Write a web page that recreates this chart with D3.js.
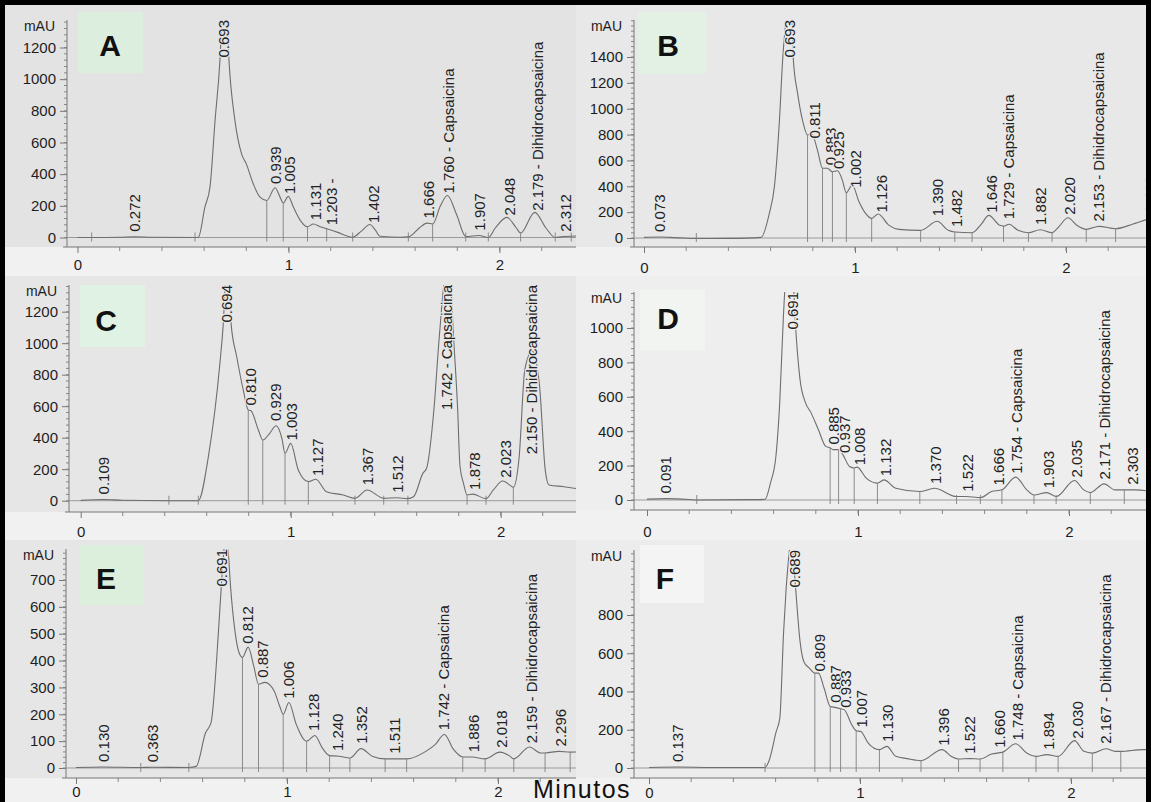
<!DOCTYPE html>
<html>
<head>
<meta charset="utf-8">
<script src="https://cdn.jsdelivr.net/npm/d3@7"></script>
<style>
body { margin:0; background:#fff; }
svg { display:block; }
</style>
</head>
<body>
<div id="chart"></div>
<script>
// ---------- data (time in min, signal in mAU) ----------

var xTicks = [0, 1, 2];

// Panel A
var traceA = [[0,0],[0.067,0],[0.2,2],[0.272,5],[0.35,2],[0.557,0],[0.573,2],[0.604,193],[0.628,320],[0.652,740],[0.675,1118],[0.686,1420],[0.696,1500],[0.707,1420],[0.718,1118],[0.746,740],[0.778,527],[0.80,465],[0.833,339],[0.865,255],[0.897,234],[0.936,314],[0.96,255],[0.975,218],[0.999,260],[1.023,193],[1.055,110],[1.09,68],[1.118,85],[1.15,68],[1.181,55],[1.23,34],[1.304,2],[1.345,40],[1.386,82],[1.41,50],[1.434,8],[1.53,2],[1.568,4],[1.62,60],[1.656,91],[1.683,85],[1.72,200],[1.753,265],[1.797,144],[1.84,6],[1.903,13],[1.947,0],[1.98,60],[2.035,127],[2.08,60],[2.10,28],[2.167,159],[2.22,60],[2.264,0],[2.29,4],[2.39,10]];
var peaksA = [[0.272,"0.272"],[0.693,"0.693"],[0.939,"0.939"],[1.005,"1.005"],[1.131,"1.131"],[1.203,"1.203 -"],[1.402,"1.402"],[1.666,"1.666"],[1.760,"1.760 - Capsaicina"],[1.907,"1.907"],[2.048,"2.048"],[2.179,"2.179 - Dihidrocapsaicina"],[2.312,"2.312"]];
var dropsA = [0.067,0.557,0.897,0.975,1.09,1.181,1.304,1.568,1.683,1.84,1.947,2.10,2.264,2.34];
var yTicksA = [0,200,400,600,800,1000,1200];

// Panel B
var traceB = [[0,5],[0.073,8],[0.15,3],[0.248,-4],[0.4,-3],[0.555,5],[0.594,190],[0.618,397],[0.642,912],[0.657,1376],[0.675,1700],[0.692,1800],[0.70,1700],[0.708,1376],[0.728,1119],[0.751,912],[0.775,797],[0.794,810],[0.822,680],[0.846,539],[0.869,539],[0.893,513],[0.917,520],[0.94,448],[0.959,350],[0.987,410],[1.019,281],[1.05,191],[1.079,152],[1.11,186],[1.16,100],[1.208,67],[1.311,59],[1.39,129],[1.442,59],[1.473,46],[1.555,41],[1.6,110],[1.634,175],[1.686,98],[1.704,92],[1.73,106],[1.773,59],[1.822,41],[1.878,64],[1.934,41],[1.965,85],[2.009,157],[2.052,98],[2.096,67],[2.157,90],[2.235,72],[2.314,106],[2.415,162]];
var peaksB = [[0.073,"0.073"],[0.693,"0.693"],[0.811,"0.811"],[0.883,"0.883"],[0.925,"0.925"],[1.002,"1.002"],[1.126,"1.126"],[1.390,"1.390"],[1.482,"1.482"],[1.646,"1.646"],[1.729,"1.729 - Capsaicina"],[1.882,"1.882"],[2.020,"2.020"],[2.153,"2.153 - Dihidrocapsaicina"],[2.400,"2.400"]];
var dropsB = [0.248,0.775,0.846,0.893,0.959,1.079,1.311,1.473,1.555,1.704,1.822,1.934,2.096,2.235];
var yTicksB = [0,200,400,600,800,1000,1200,1400];

// Panel C
var traceC = [[0,2],[0.109,8],[0.2,3],[0.42,0],[0.56,0],[0.608,280],[0.663,874],[0.679,1126],[0.69,1400],[0.70,1500],[0.71,1400],[0.716,1126],[0.743,914],[0.774,703],[0.798,576],[0.81,572],[0.846,449],[0.867,385],[0.90,428],[0.93,476],[0.958,396],[0.973,301],[1.0,364],[1.036,195],[1.084,121],[1.12,136],[1.17,57],[1.25,36],[1.306,15],[1.364,68],[1.443,15],[1.505,19],[1.558,13],[1.585,25],[1.63,175],[1.647,206],[1.682,579],[1.708,1047],[1.74,1450],[1.76,1400],[1.775,1050],[1.795,580],[1.806,220],[1.823,110],[1.84,36],[1.867,42],[1.93,13],[1.965,68],[2.009,125],[2.053,90],[2.06,85],[2.088,280],[2.115,834],[2.15,950],[2.185,728],[2.212,196],[2.23,100],[2.30,89],[2.385,72]];
var peaksC = [[0.109,"0.109"],[0.694,"0.694"],[0.810,"0.810"],[0.929,"0.929"],[1.003,"1.003"],[1.127,"1.127"],[1.367,"1.367"],[1.512,"1.512"],[1.742,"1.742 - Capsaicina"],[1.878,"1.878"],[2.023,"2.023"],[2.150,"2.150 - Dihidrocapsaicina"]];
var dropsC = [0.42,0.56,0.798,0.867,0.973,1.084,1.306,1.443,1.558,1.84,1.93,2.06];
var yTicksC = [0,200,400,600,800,1000,1200];

// Panel D
var traceD = [[0,5],[0.091,8],[0.2,3],[0.236,0],[0.5,2],[0.559,4],[0.585,98],[0.611,254],[0.629,566],[0.646,1055],[0.66,1350],[0.674,1450],[0.69,1350],[0.702,1055],[0.725,703],[0.751,566],[0.777,508],[0.812,410],[0.847,312],[0.868,303],[0.882,293],[0.908,293],[0.926,268],[0.96,195],[0.982,186],[0.996,191],[1.039,127],[1.092,98],[1.123,117],[1.179,68],[1.293,49],[1.362,68],[1.467,20],[1.511,20],[1.58,14],[1.633,49],[1.682,59],[1.747,133],[1.8,59],[1.834,29],[1.895,43],[1.939,20],[2.026,113],[2.07,59],[2.101,43],[2.166,94],[2.218,59],[2.262,59],[2.314,59],[2.398,49]];
var peaksD = [[0.091,"0.091"],[0.691,"0.691"],[0.885,"0.885"],[0.937,"0.937"],[1.008,"1.008"],[1.132,"1.132"],[1.370,"1.370"],[1.522,"1.522"],[1.666,"1.666"],[1.754,"1.754 - Capsaicina"],[1.903,"1.903"],[2.035,"2.035"],[2.171,"2.171 - Dihidrocapsaicina"],[2.303,"2.303"],[2.419,"2.419"]];
var dropsD = [0.236,0.868,0.908,0.982,1.092,1.293,1.467,1.58,1.682,1.834,1.939,2.101,2.262,2.367];
var yTicksD = [0,200,400,600,800,1000];

// Panel E
var traceE = [[0,2],[0.13,4],[0.307,2],[0.363,3],[0.535,2],[0.57,6],[0.614,131],[0.64,169],[0.675,506],[0.689,681],[0.70,800],[0.711,850],[0.722,800],[0.732,681],[0.754,506],[0.772,431],[0.789,412],[0.816,450],[0.842,381],[0.865,312],[0.895,319],[0.939,287],[0.965,231],[0.982,200],[1.009,244],[1.044,162],[1.093,100],[1.132,121],[1.167,75],[1.202,46],[1.246,44],[1.298,37],[1.351,72],[1.404,44],[1.465,34],[1.518,34],[1.567,34],[1.658,62],[1.702,87],[1.746,125],[1.789,69],[1.833,41],[1.877,41],[1.939,34],[2.009,59],[2.053,46],[2.075,34],[2.149,78],[2.202,56],[2.223,56],[2.289,62],[2.342,59],[2.391,60]];
var peaksE = [[0.130,"0.130"],[0.363,"0.363"],[0.691,"0.691"],[0.812,"0.812"],[0.887,"0.887"],[1.006,"1.006"],[1.128,"1.128"],[1.240,"1.240"],[1.352,"1.352"],[1.511,"1.511"],[1.742,"1.742 - Capsaicina"],[1.886,"1.886"],[2.018,"2.018"],[2.159,"2.159 - Dihidrocapsaicina"],[2.296,"2.296"]];
var dropsE = [0.307,0.535,0.789,0.865,0.982,1.093,1.202,1.298,1.465,1.567,1.833,1.939,2.075,2.223,2.342];
var yTicksE = [0,100,200,300,400,500,600,700];

// Panel F
var traceF = [[0,3],[0.137,5],[0.3,3],[0.55,3],[0.568,35],[0.603,191],[0.62,261],[0.638,713],[0.65,939],[0.662,1100],[0.673,1200],[0.684,1100],[0.695,939],[0.716,661],[0.734,556],[0.76,522],[0.786,496],[0.803,496],[0.83,417],[0.859,322],[0.882,317],[0.908,310],[0.926,304],[0.961,226],[0.982,195],[1.004,191],[1.039,130],[1.092,96],[1.127,113],[1.17,61],[1.223,49],[1.289,38],[1.389,96],[1.432,61],[1.467,47],[1.52,49],[1.569,47],[1.624,73],[1.677,83],[1.738,127],[1.79,78],[1.834,61],[1.886,70],[1.939,61],[2.017,143],[2.061,87],[2.101,78],[2.166,101],[2.21,87],[2.236,87],[2.34,96],[2.39,96]];
var peaksF = [[0.137,"0.137"],[0.689,"0.689"],[0.809,"0.809"],[0.887,"0.887"],[0.933,"0.933"],[1.007,"1.007"],[1.130,"1.130"],[1.396,"1.396"],[1.522,"1.522"],[1.660,"1.660"],[1.748,"1.748 - Capsaicina"],[1.894,"1.894"],[2.030,"2.030"],[2.167,"2.167 - Dihidrocapsaicina"],[2.382,"2.382"]];
var dropsF = [0.55,0.786,0.859,0.908,0.982,1.092,1.289,1.467,1.569,1.677,1.834,1.939,2.101,2.236];
var yTicksF = [0,200,400,600,800];

// ---------- layout ----------

var W = 1151, H = 802;
var font = "'Liberation Sans', Arial, sans-serif";

var panels = [
  { id:"A", trace:traceA, peaks:peaksA, drops:dropsA, yTicks:yTicksA, minor:40,
    cell:[4,4,572,272], x0:77.5, ppm:211, y0:237.5, vRef:1200, yRef:47.5,
    axisX:67, axisTop:20, xAxisY:247, labelC:265, box:[78,12,65,61], boxFill:"#dcefdf", letter:[110,45], bg:"#e3e3e3" },
  { id:"B", trace:traceB, peaks:peaksB, drops:dropsB, yTicks:yTicksB, minor:40,
    cell:[576,4,571,272], x0:644, ppm:211, y0:238, vRef:1400, yRef:57,
    axisX:634, axisTop:20, xAxisY:247, labelC:268, box:[638,12,68,62], boxFill:"#e3f0e4", letter:[668,45], bg:"#e8e8e8" },
  { id:"C", trace:traceC, peaks:peaksC, drops:dropsC, yTicks:yTicksC, minor:40,
    cell:[4,276,572,264], x0:80.7, ppm:210, y0:500.7, vRef:1200, yRef:311.7,
    axisX:69, axisTop:285, xAxisY:512, labelC:532, box:[80,285,65,62], boxFill:"#e0f2e4", letter:[106,320], bg:"#e6e6e6" },
  { id:"D", trace:traceD, peaks:peaksD, drops:dropsD, yTicks:yTicksD, minor:40,
    cell:[576,276,571,264], x0:647, ppm:211, y0:500, vRef:1000, yRef:328,
    axisX:634, axisTop:292, xAxisY:510, labelC:532, box:[640,290,65,60], boxFill:"#f2f4f2", letter:[668,318], bg:"#eeeeee" },
  { id:"E", trace:traceE, peaks:peaksE, drops:dropsE, yTicks:yTicksE, minor:20,
    cell:[4,540,572,262], x0:76, ppm:211, y0:768, vRef:700, yRef:580,
    axisX:66, axisTop:549, xAxisY:778, labelC:792, box:[80,545,64,60], boxFill:"#dcefdc", letter:[106,578], bg:"#e6e6e6" },
  { id:"F", trace:traceF, peaks:peaksF, drops:dropsF, yTicks:yTicksF, minor:40,
    cell:[576,540,571,262], x0:649, ppm:211, y0:768, vRef:800, yRef:615,
    axisX:634, axisTop:550, xAxisY:778, labelC:793, box:[640,545,64,58], boxFill:"#f4f4f4", letter:[665,578], bg:"#ececec" }
];

var svg = d3.select("#chart")
  .append("svg")
  .attr("width", W)
  .attr("height", H);

var defs = svg.append("defs");

svg.append("rect")
  .attr("width", W)
  .attr("height", H)
  .attr("fill", "#efefef");

// linear read of the trace at time t (used to place drop lines and labels)
function valueAt(trace, t) {
  var i = d3.bisector(function(d) { return d[0]; }).left(trace, t);
  if (i <= 0) return trace[0][1];
  if (i >= trace.length) return trace[trace.length - 1][1];
  var a = trace[i - 1], b = trace[i];
  return a[1] + (b[1] - a[1]) * (t - a[0]) / (b[0] - a[0]);
}

panels.forEach(function(p) {
  var cx = p.cell[0], cy = p.cell[1], cw = p.cell[2], ch = p.cell[3];
  var right = cx + cw, bottom = cy + ch;

  var x = d3.scaleLinear().domain([0, 1]).range([p.x0, p.x0 + p.ppm]);
  var y = d3.scaleLinear().domain([0, p.vRef]).range([p.y0, p.yRef]);

  defs.append("clipPath").attr("id", "cell" + p.id)
    .append("rect").attr("x", cx).attr("y", cy).attr("width", cw).attr("height", ch);
  defs.append("clipPath").attr("id", "plot" + p.id)
    .append("rect").attr("x", p.axisX).attr("y", p.axisTop)
    .attr("width", right - p.axisX).attr("height", p.xAxisY - p.axisTop);

  var g = svg.append("g").attr("clip-path", "url(#cell" + p.id + ")");

  // background of the photographed print
  g.append("rect").attr("x", cx).attr("y", cy).attr("width", cw).attr("height", ch)
    .attr("fill", p.bg);
  g.append("rect").attr("x", cx).attr("y", p.xAxisY).attr("width", cw).attr("height", bottom - p.xAxisY)
    .attr("fill", "#f1f1f1");

  // letter box
  g.append("rect")
    .attr("x", p.box[0]).attr("y", p.box[1])
    .attr("width", p.box[2]).attr("height", p.box[3])
    .attr("fill", p.boxFill);
  g.append("text")
    .attr("x", p.letter[0]).attr("y", p.letter[1])
    .attr("dy", "0.36em")
    .attr("text-anchor", "middle")
    .attr("font-family", font)
    .attr("font-weight", "bold")
    .attr("font-size", 30)
    .attr("fill", "#111")
    .text(p.id);

  // y axis
  var vTop = y.invert(p.axisTop);
  var yAxis = d3.axisLeft(y).tickValues(p.yTicks).tickSize(7).tickPadding(4).tickFormat(d3.format("d"));
  var yg = g.append("g").attr("transform", "translate(" + p.axisX + ",0)").call(yAxis);
  yg.select(".domain").remove();
  yg.selectAll(".tick line").attr("stroke", "#777");
  yg.selectAll("text").attr("font-family", font).attr("font-size", 15).attr("fill", "#1e1e1e");

  g.append("g").selectAll("line")
    .data(d3.range(0, vTop, p.minor))
    .enter().append("line")
    .attr("x1", p.axisX - 3).attr("x2", p.axisX)
    .attr("y1", function(d) { return y(d); })
    .attr("y2", function(d) { return y(d); })
    .attr("stroke", "#888");

  g.append("line")
    .attr("x1", p.axisX).attr("x2", p.axisX)
    .attr("y1", p.axisTop).attr("y2", p.xAxisY)
    .attr("stroke", "#777");

  g.append("text")
    .attr("x", p.axisX - 12).attr("y", p.axisTop + 6)
    .attr("dy", "0.35em")
    .attr("text-anchor", "end")
    .attr("font-family", font)
    .attr("font-size", 14)
    .attr("fill", "#1e1e1e")
    .text("mAU");

  // x axis
  var xAxis = d3.axisBottom(x).tickValues(xTicks).tickSize(6)
    .tickPadding(p.labelC - p.xAxisY - 6 - 5.4).tickFormat(d3.format("d"));
  var xg = g.append("g").attr("transform", "translate(0," + p.xAxisY + ")").call(xAxis);
  xg.select(".domain").remove();
  xg.selectAll(".tick line").attr("stroke", "#777");
  xg.selectAll("text").attr("font-family", font).attr("font-size", 15).attr("fill", "#1e1e1e");

  g.append("g").selectAll("line")
    .data(d3.range(0.2, 3, 0.2))
    .enter().append("line")
    .attr("x1", function(d) { return x(d); })
    .attr("x2", function(d) { return x(d); })
    .attr("y1", p.xAxisY).attr("y2", p.xAxisY + 4)
    .attr("stroke", "#888");

  g.append("line")
    .attr("x1", p.axisX - 4).attr("x2", right)
    .attr("y1", p.xAxisY).attr("y2", p.xAxisY)
    .attr("stroke", "#777");

  // zero reference
  g.append("line")
    .attr("x1", p.axisX).attr("x2", right)
    .attr("y1", y(0)).attr("y2", y(0))
    .attr("stroke", "#9a9a9a");

  // trace
  var plot = g.append("g").attr("clip-path", "url(#plot" + p.id + ")");
  var line = d3.line()
    .x(function(d) { return x(d[0]); })
    .y(function(d) { return y(d[1]); })
    .curve(d3.curveMonotoneX);

  plot.append("path")
    .datum(p.trace)
    .attr("d", line)
    .attr("fill", "none")
    .attr("stroke", "#6e6e6e")
    .attr("stroke-width", 1.1);

  // integration drop lines
  plot.append("g").selectAll("line")
    .data(p.drops)
    .enter().append("line")
    .attr("x1", function(d) { return x(d); })
    .attr("x2", function(d) { return x(d); })
    .attr("y1", y(0) + 4)
    .attr("y2", function(d) { return Math.min(y(valueAt(p.trace, d)), y(0) - 5); })
    .attr("stroke", "#808080")
    .attr("stroke-width", 0.9);

  // peak labels, rotated, sitting on the peak or hanging from the top
  g.append("g").selectAll("text")
    .data(p.peaks)
    .enter().append("text")
    .attr("font-family", font)
    .attr("font-size", 15)
    .attr("fill", "#222")
    .attr("stroke", p.bg)
    .attr("stroke-width", 2.5)
    .attr("stroke-linejoin", "round")
    .attr("paint-order", "stroke")
    .attr("dy", "0.35em")
    .text(function(d) { return d[1]; })
    .each(function(d) {
      var len = this.getComputedTextLength();
      var base = y(valueAt(p.trace, d[0])) - 5;
      if (base - len < p.axisTop) base = p.axisTop + len;
      d3.select(this).attr("transform", "translate(" + x(d[0]) + "," + base + ") rotate(-90)");
    });
});

// shared x title
svg.append("text")
  .attr("x", 533)
  .attr("y", 798)
  .attr("font-family", "'Liberation Sans Narrow', 'Liberation Sans', Arial, sans-serif")
  .attr("font-size", 25)
  .attr("letter-spacing", 1.5)
  .attr("fill", "#111")
  .text("Minutos");

// photo frame
svg.append("path")
  .attr("d", "M2.5,802 V2.5 H1148.5 V802")
  .attr("fill", "none")
  .attr("stroke", "#000")
  .attr("stroke-width", 5);
</script>
</body>
</html>
